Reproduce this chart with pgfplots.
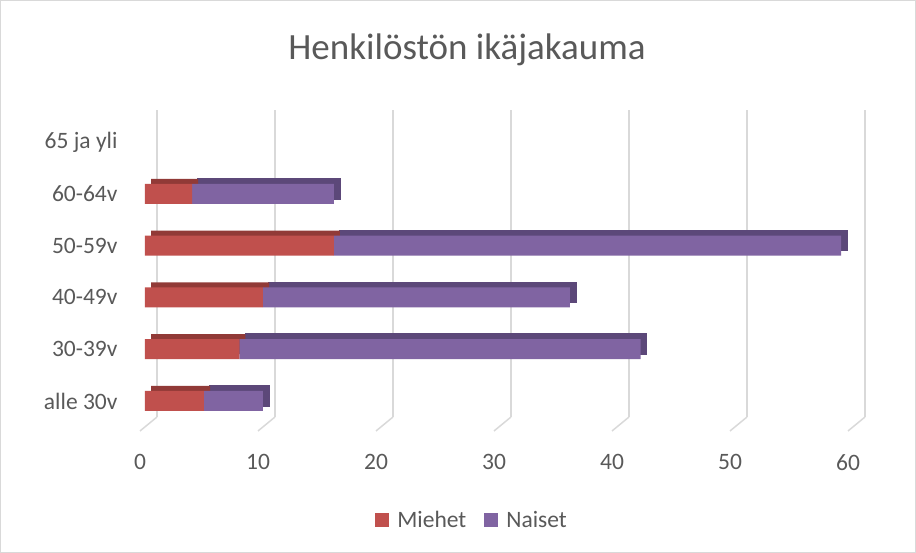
\documentclass[border=0pt]{standalone}
\usepackage{pgfplots}
\pgfplotsset{compat=1.18}
\usepackage{fontspec}
\setmainfont{Carlito}
\definecolor{txt}{HTML}{595959}
\definecolor{grd}{HTML}{D9D9D9}
\definecolor{mred}{HTML}{C0504D}
\definecolor{mpur}{HTML}{8064A2}
\definecolor{dred}{HTML}{913A37}
\definecolor{dpur}{HTML}{5C4879}
\pgfplotstableread{
cat Miehet Naiset
0 5 5
1 8 34
2 10 26
3 16 43
4 4 12
5 0 0
}\data
\begin{document}
\begin{tikzpicture}[x=1pt,y=1pt]
\useasboundingbox (0,0) rectangle (916,553);
\draw[grd,line width=1pt] (0.5,0.5) rectangle (915.5,552.5);
\node[txt,font=\fontsize{37}{44}\selectfont] at (467,503) {Henkilöstön ikäjakauma};
% grid axis (back wall and floor)
\begin{axis}[at={(157pt,136pt)},anchor=south west,scale only axis,width=708pt,height=307pt,
  xmin=0,xmax=60,ymin=0,ymax=1,axis line style={draw=none},clip=false,
  xtick={0,10,...,60},ytick=\empty,xticklabels={},major tick length=0pt,
  xmajorgrids,grid style={grd,line width=1.5pt}]
\addplot[draw=none] coordinates {(0,0.5)};
\pgfplotsinvokeforeach{0,10,...,60}{\draw[grd,line width=1.5pt] (axis cs:#1,0) -- ++(-17pt,-14pt);}
\end{axis}
% back bars (depth)
\begin{axis}[at={(151pt,126pt)},anchor=south west,scale only axis,width=708pt,height=321pt,
  xmin=0,xmax=60,ymin=-0.6,ymax=5.6,hide axis,
  xbar stacked,bar width=20pt]
\addplot[fill=dred,draw=none] table[x=Miehet,y=cat]{\data};
\addplot[fill=dpur,draw=dpur,line width=1.5pt] table[x=Naiset,y=cat]{\data};
\end{axis}
% front bars
\begin{axis}[at={(145pt,121pt)},anchor=south west,scale only axis,width=708pt,height=321pt,
  xmin=0,xmax=60,ymin=-0.6,ymax=5.6,axis line style={draw=none},
  xbar stacked,bar width=20pt,
  xtick={0,10,...,60},ytick={0,...,5},
  yticklabels={alle 30v,30-39v,40-49v,50-59v,60-64v,65 ja yli},
  major tick length=0pt,
  ticklabel style={txt,font=\fontsize{23.5}{28}\selectfont},
  /pgf/number format/assume math mode=true,
  yticklabel style={xshift=-24pt},
  xticklabel style={yshift=-19pt,xshift=-5pt},
  legend style={at={(0.462,-0.274)},anchor=center,draw=none,legend columns=2,
    font=\fontsize{23.5}{28}\selectfont,text=txt,
    /tikz/every even column/.append style={column sep=16pt}},
  legend image code/.code={\fill[#1] (0pt,-7pt) rectangle (14pt,7pt);\path (20pt,0pt);}]
\addplot[fill=mred,draw=none] table[x=Miehet,y=cat]{\data};
\addplot[fill=mpur,draw=none] table[x=Naiset,y=cat]{\data};
\legend{Miehet,Naiset}
\end{axis}
\end{tikzpicture}
\end{document}
